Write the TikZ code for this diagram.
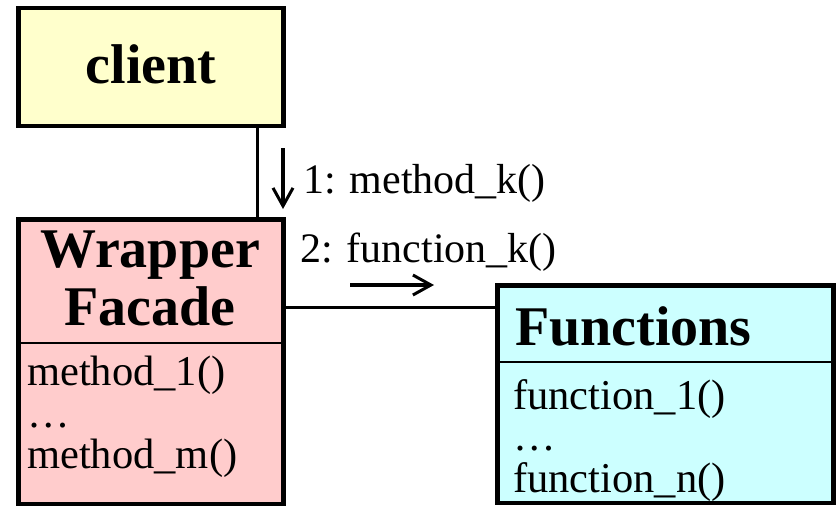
\documentclass[tikz,border=0pt]{standalone}
\usepackage{fontspec}
\setmainfont{Liberation Serif}
\usepackage{tikz}
\usetikzlibrary{arrows.meta}
\definecolor{clientyellow}{HTML}{FFFFCC}
\definecolor{facadepink}{HTML}{FFCCCC}
\definecolor{funccyan}{HTML}{CCFFFF}

\begin{document}
\begin{tikzpicture}[x=1pt,y=-1pt,
		classbox/.style={draw,rectangle,line width=4.5pt,inner sep=0pt},
		title/.style={font=\fontsize{56}{58}\selectfont\bfseries,inner sep=0pt,align=center},
		members/.style={font=\fontsize{42.5}{41.5}\selectfont,inner sep=0pt,align=left},
		msg/.style={font=\fontsize{42}{44}\selectfont,inner sep=0pt},
		link/.style={draw,line width=3pt},
		divider/.style={draw,line width=2pt},
		msgarrow/.style={draw,line width=3.5pt,-{Straight Barb[length=18pt,width=20pt,line width=3pt]}}]
		\useasboundingbox (0,0) rectangle (836,507);
		% boxes
		\node[classbox,fill=clientyellow,minimum width=265pt,minimum height=118pt] (client) at (151,67) {};
		\node[classbox,fill=facadepink,minimum width=265pt,minimum height=284.5pt] (wrapper) at (151,361.75) {};
		\node[classbox,fill=funccyan,minimum width=336pt,minimum height=217.5pt] (functions) at (665.5,394.25) {};
		\draw[divider] (wrapper.west |- 0,343) -- (wrapper.east |- 0,343);
		\draw[divider] (functions.west |- 0,362) -- (functions.east |- 0,362);
		% texts
		\node[title,anchor=base] (clientname) at (151,83) {client};
		\node[title] (wrappername) at (150,278) {Wrapper\\Facade};
		\node[title,anchor=base west] (functionsname) at (515,345) {Functions};
		\node[members,anchor=north west] (wrapperops) at (27,356) {method\_1()\\\dots\\method\_m()};
		\node[members,anchor=north west] (functionsops) at (513,379) {function\_1()\\\dots\\function\_n()};
		% links
		\draw[link] ([xshift=106pt]client.south) -- ([xshift=106pt]wrapper.north);
		\draw[link] ([yshift=54.75pt]wrapper.east) -- ([yshift=54.75pt]wrapper.east -| functions.west);
		% messages
		\coordinate (callstart) at (283,148);
		\coordinate (callend) at (283,209);
		\coordinate (fwdstart) at (350,285);
		\coordinate (fwdend) at (434,285);
		\draw[msgarrow] (callstart) -- (callend);
		\draw[msgarrow] (fwdstart) -- (fwdend);
		\node[msg,anchor=base west] (call) at (303,193) {1: method\_k()};
		\node[msg,anchor=base west] (fwd) at (300,262) {2: function\_k()};
	\end{tikzpicture}
\end{document}
